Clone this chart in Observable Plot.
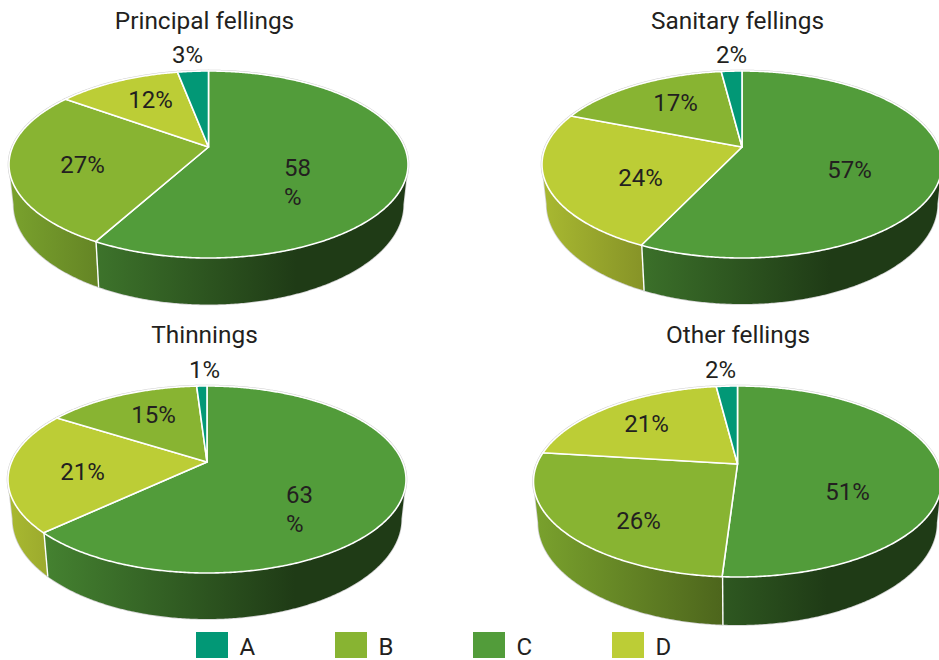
<!DOCTYPE html>
<html>
<head>
<meta charset="utf-8">
<script src="https://cdn.jsdelivr.net/npm/d3@7"></script>
<script src="https://cdn.jsdelivr.net/npm/@observablehq/plot@0.6"></script>
<style>
  html, body { margin: 0; padding: 0; background: #fff; overflow: hidden; }
  #chart { position: relative; width: 939px; height: 660px; overflow: hidden; font-family: Roboto, sans-serif; color: #231f20; }
  #chart svg { display: block; }
  .key { position: absolute; top: 632px; height: 26px; display: flex; align-items: center; font-size: 24px; line-height: 26px; }
  .key i { display: block; width: 32px; height: 26px; margin-right: 12px; }
  .key span { position: relative; top: 1.5px; left: -0.5px; }
</style>
</head>
<body>
<div id="chart"></div>
<script>
// Felling types, with shares in percent, clockwise from twelve o'clock
const categories = ["A", "B", "C", "D"];
const categoryColors = ["#029876", "#88b432", "#529c3a", "#bccd36"];

const panelTitles = ["Principal fellings", "Sanitary fellings", "Thinnings", "Other fellings"];

const principalOrder = ["C", "B", "D", "A"];
const principalShares = [58, 27, 12, 3];
const sanitaryOrder = ["C", "D", "B", "A"];
const sanitaryShares = [57, 24, 17, 2];
const thinningsOrder = ["C", "D", "B", "A"];
const thinningsShares = [63, 21, 15, 1];
const otherOrder = ["C", "B", "D", "A"];
const otherShares = [51, 26, 21, 2];

// Disc geometry for each panel: apex position, half width, far/near reach, wall height
const discLayout = [
  {cx: 208.5, cy: 147, rx: 199.5, far: 76, near: 111, depth: 46.5, titleX: 204, titleY: 21},
  {cx: 742, cy: 147, rx: 200, far: 76, near: 111, depth: 46, titleX: 737, titleY: 21},
  {cx: 207, cy: 462, rx: 199, far: 76, near: 111, depth: 46, titleX: 204, titleY: 335},
  {cx: 737.5, cy: 464, rx: 204, far: 78, near: 113, depth: 48, titleX: 737.5, titleY: 335}
];

// Label offsets from the apex, in slice order; wrapped labels break before the % sign
const labelOffsets = [
  [{dx: 75, dy: 34, wrap: true}, {dx: -126.5, dy: 18}, {dx: -58.5, dy: -47}, {dx: -21.5, dy: -92}],
  [{dx: 107, dy: 23}, {dx: -102, dy: 31}, {dx: -67, dy: -44}, {dx: -11, dy: -92}],
  [{dx: 78.5, dy: 45.5, wrap: true}, {dx: -125, dy: 10}, {dx: -54, dy: -47}, {dx: -3, dy: -92}],
  [{dx: 109.5, dy: 28}, {dx: -99.5, dy: 57}, {dx: -91.5, dy: -40}, {dx: -17.5, dy: -94}]
];

// Wall shading: brightness of the face colour along the disc's width
const wallShade = [[0, 0.9], [0.72, 0.38], [1, 0.38]];

const panels = [
  {order: principalOrder, shares: principalShares},
  {order: sanitaryOrder, shares: sanitaryShares},
  {order: thinningsOrder, shares: thinningsShares},
  {order: otherOrder, shares: otherShares}
];

const colorOf = (c) => categoryColors[categories.indexOf(c)];

// Perspective view of a tilted disc: the near rim is magnified, so the apex sits above the ellipse centre.
// The floor of the disc lies further below the eye line, so it reads narrower and more open than the face.
function projector({cx, cy, rx, far, near, depth}) {
  const k = (near - far) / (near + far);
  const b = near * (1 - k);
  const R = rx * Math.sqrt(1 - k * k);
  const floorX = 0.977;
  const floorOpen = 1.07;
  const floorY = cy + near + depth - floorOpen * near;
  const at = (deg) => {
    const t = deg * Math.PI / 180;
    const u = Math.sin(t), v = -Math.cos(t), w = 1 - k * v;
    return [R * u / w, b * v / w];
  };
  return {
    top: (deg) => { const [x, y] = at(deg); return [cx + x, cy + y]; },
    bottom: (deg) => { const [x, y] = at(deg); return [cx + floorX * x, floorY + floorOpen * y]; },
    // Angle of the widest point of the ellipse, where the wall's silhouette leaves the rim
    limit: 90 + Math.asin(k) * 180 / Math.PI
  };
}

function arcDegrees(a, b) {
  const n = Math.max(2, Math.ceil((b - a) * 2));
  return d3.range(n + 1).map((i) => a + (b - a) * i / n);
}

const slices = panels.flatMap((panel, p) => {
  const layout = discLayout[p];
  const proj = projector(layout);
  let cum = 0;
  return panel.order.map((category, i) => {
    const start = cum * 3.6;
    cum += panel.shares[i];
    return {panel: p, category, share: panel.shares[i], start, end: cum * 3.6, layout, proj};
  });
});

const sectorPoints = (s) => arcDegrees(s.start, s.end).map((deg) => {
  const [x2, y2] = s.proj.top(deg);
  return {x1: s.layout.cx, y1: s.layout.cy, x2, y2};
});

const wallPoints = (s) => {
  const a = Math.max(s.start, s.proj.limit), b = Math.min(s.end, 360 - s.proj.limit);
  if (b <= a) return [];
  return arcDegrees(a, b).map((deg) => {
    const [x1, y1] = s.proj.top(deg);
    const [x2, y2] = s.proj.bottom(deg);
    return {x1, y1, x2, y2};
  });
};

// White seams where two slices meet on the visible wall
const wallSeams = slices
  .filter((s) => s.end > s.proj.limit && s.end < 360 - s.proj.limit)
  .map((s) => {
    const [x1, y1] = s.proj.top(s.end);
    const [x2, y2] = s.proj.bottom(s.end);
    return {x1, y1, x2, y2};
  });

const gradientId = (s) => `wall-${s.panel}-${s.category}`;

// Horizontal wall gradients in page space, one per panel and category
function wallGradients() {
  const defs = d3.create("svg:defs");
  for (const s of slices) {
    const g = defs.append("linearGradient").attr("id", gradientId(s))
      .attr("gradientUnits", "userSpaceOnUse")
      .attr("x1", s.layout.cx - s.layout.rx).attr("x2", s.layout.cx + s.layout.rx)
      .attr("y1", 0).attr("y2", 0);
    const base = d3.rgb(colorOf(s.category));
    for (const [offset, f] of wallShade) {
      g.append("stop").attr("offset", offset)
        .attr("stop-color", d3.rgb(base.r * f, base.g * f, base.b * f).formatHex());
    }
  }
  return defs.node();
}

const labels = slices.map((s, idx) => {
  const o = labelOffsets[s.panel][idx % 4];
  return {
    x: s.layout.cx + o.dx,
    y: s.layout.cy + o.dy,
    text: o.wrap ? `${s.share}\n%` : `${s.share}%`,
    wrap: !!o.wrap
  };
});

const plot = Plot.plot({
  width: 939,
  height: 630,
  margin: 0,
  style: {fontFamily: "Roboto, sans-serif", background: "#fff", overflow: "hidden"},
  x: {domain: [0, 939], range: [0, 939], axis: null},
  y: {domain: [0, 630], range: [0, 630], axis: null},
  color: {domain: categories, range: categoryColors},
  marks: [
    wallGradients,
    // Faint halo around the walls and the rear of each disc
    ...slices.map((s) => Plot.area(wallPoints(s), {
      x1: "x1", y1: "y1", x2: "x2", y2: "y2",
      fill: "#fff", stroke: "#d0d0d0", strokeWidth: 1.6
    })),
    ...slices.map((s) => Plot.area(sectorPoints(s), {
      x1: "x1", y1: "y1", x2: "x2", y2: "y2",
      fill: "none", stroke: "#d0d0d0", strokeWidth: 2.6
    })),
    ...slices.map((s) => Plot.area(wallPoints(s), {
      x1: "x1", y1: "y1", x2: "x2", y2: "y2",
      fill: `url(#${gradientId(s)})`
    })),
    Plot.link(wallSeams, {x1: "x1", y1: "y1", x2: "x2", y2: "y2", stroke: "#fff", strokeWidth: 1.4}),
    ...slices.map((s) => Plot.area(sectorPoints(s), {
      x1: "x1", y1: "y1", x2: "x2", y2: "y2",
      fill: () => s.category, stroke: "#fff", strokeWidth: 1.6
    })),
    Plot.text(panelTitles.map((title, i) => ({title, x: discLayout[i].titleX, y: discLayout[i].titleY})), {
      x: "x", y: "y", text: "title", fontSize: 24.4, fill: "#231f20"
    }),
    Plot.text(labels.filter((d) => !d.wrap), {
      x: "x", y: "y", text: "text", fontSize: 24, fill: "#231f20"
    }),
    Plot.text(labels.filter((d) => d.wrap), {
      x: "x", y: "y", text: "text", fontSize: 24, lineHeight: 1.2, textAnchor: "start", fill: "#231f20"
    })
  ]
});

const chart = document.getElementById("chart");
chart.append(plot);

// Category key beneath the discs
const keyLefts = [196, 335, 473, 612];
categories.forEach((c, i) => {
  const key = document.createElement("div");
  key.className = "key";
  key.style.left = keyLefts[i] + "px";
  const swatch = document.createElement("i");
  swatch.style.background = categoryColors[i];
  const name = document.createElement("span");
  name.textContent = c;
  key.append(swatch, name);
  chart.append(key);
});
</script>
</body>
</html>
